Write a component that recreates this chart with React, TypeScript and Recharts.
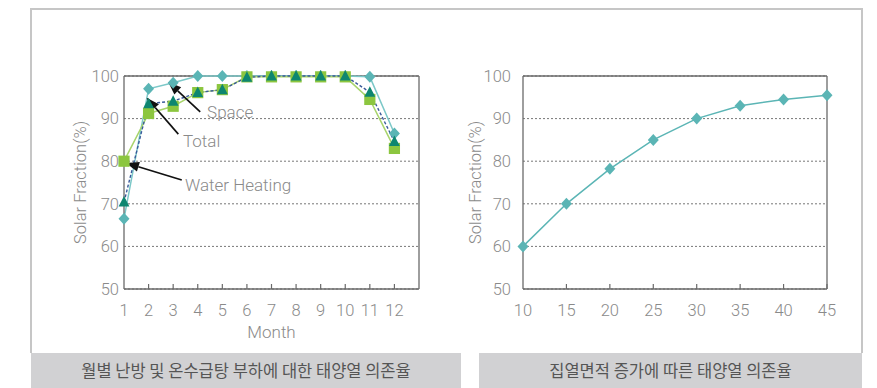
import {
  CartesianGrid,
  Line,
  LineChart,
  ReferenceDot,
  ReferenceLine,
  XAxis,
  YAxis,
} from "recharts";

// monthly solar fraction (%) by load type
const months = [1, 2, 3, 4, 5, 6, 7, 8, 9, 10, 11, 12];
const spaceFraction = [66.5, 97, 98.4, 100, 100, 100, 100, 100, 100, 100, 99.8, 86.5];
const totalFraction = [70.4, 93.5, 94.1, 96.1, 96.8, 99.7, 100, 100, 100, 100, 96.2, 84.6];
const waterFraction = [80, 91.2, 92.9, 96.1, 96.8, 99.8, 99.8, 99.8, 99.8, 99.8, 94.5, 83];

// solar fraction (%) vs collector area
const collectorArea = [10, 15, 20, 25, 30, 35, 40, 45];
const areaFraction = [60, 70, 78.2, 85, 90, 93, 94.5, 95.5];

const fractionTicks = [50, 60, 70, 80, 90, 100];

// arrow annotations on the monthly chart, in data units: [month, %]
const notes = [
  { text: "Space", tail: [4.1, 91.6], head: [2.8, 98.6], at: [4.38, 91.5] },
  { text: "Total", tail: [3.21, 86.35], head: [1.92, 94.9], at: [3.4, 84.7] },
  { text: "Water Heating", tail: [3.35, 75.6], head: [1.08, 79.6], at: [3.48, 74.4] },
];

const captions = ["월별 난방 및 온수급탕 부하에 대한 태양열 의존율", "집열면적 증가에 따른 태양열 의존율"];

const colors = {
  text: "#8a8a8a",
  axis: "#6a6a6a",
  grid: "#777",
  space: "#5bb5b5",
  spaceLine: "#7cc8c8",
  total: "#0e8670",
  totalLine: "#3a5a9a",
  water: "#8cc63f",
  waterLine: "#a8d46c",
};

const font = "Roboto, 'Noto Sans', sans-serif";

const monthRows = months.map((month, i) => ({
  month,
  space: spaceFraction[i],
  total: totalFraction[i],
  water: waterFraction[i],
}));

const areaRows = collectorArea.map((area, i) => ({ area, value: areaFraction[i] }));

const diamond = (fill: string) => (p: any) =>
  p.cx == null ? null : (
    <path
      key={`d-${p.index}`}
      d={`M${p.cx},${p.cy - 6}L${p.cx + 5.5},${p.cy}L${p.cx},${p.cy + 6}L${p.cx - 5.5},${p.cy}Z`}
      fill={fill}
    />
  );

const square = (fill: string) => (p: any) =>
  p.cx == null ? null : (
    <rect key={`s-${p.index}`} x={p.cx - 5.6} y={p.cy - 5.6} width={11.2} height={11.2} fill={fill} />
  );

const triangle = (fill: string) => (p: any) =>
  p.cx == null ? null : (
    <path
      key={`t-${p.index}`}
      d={`M${p.cx},${p.cy - 6}L${p.cx + 5.4},${p.cy + 4.5}L${p.cx - 5.4},${p.cy + 4.5}Z`}
      fill={fill}
    />
  );

const bottomTick = (first: number) => (p: any) => (
  <g>
    {p.payload.value !== first && (
      <line x1={p.x} x2={p.x} y1={p.y} y2={p.y - 5} stroke={colors.axis} strokeWidth={1.2} />
    )}
    <text
      x={p.x}
      y={p.y + 21}
      textAnchor="middle"
      dominantBaseline="central"
      fill={colors.text}
      fontSize={16.5}
      fontFamily={font}
      fontWeight={300}
    >
      {p.payload.value}
    </text>
  </g>
);

const arrowShape = (p: any) => {
  const { x1, y1, x2, y2 } = p;
  const a = Math.atan2(y2 - y1, x2 - x1);
  const len = 13;
  const half = 5;
  const bx = x2 - len * Math.cos(a);
  const by = y2 - len * Math.sin(a);
  return (
    <g>
      <line x1={x1} y1={y1} x2={bx} y2={by} stroke="#111" strokeWidth={1.7} />
      <polygon
        points={`${x2},${y2} ${bx - half * Math.sin(a)},${by + half * Math.cos(a)} ${bx + half * Math.sin(a)},${by - half * Math.cos(a)}`}
        fill="#111"
      />
    </g>
  );
};

const yTick = { fill: colors.text, fontSize: 16.5, fontFamily: font, fontWeight: 300 };

function MonthlyChart() {
  return (
    <LineChart width={420} height={340} data={monthRows} margin={{ top: 67, right: 31, bottom: 0, left: 0 }}>
      <CartesianGrid stroke={colors.grid} strokeDasharray="2 2" vertical={false} />
      <XAxis
        dataKey="month"
        type="number"
        domain={[1, 13]}
        ticks={months}
        interval={0}
        height={60}
        tickSize={0}
        tickMargin={0}
        tick={bottomTick(1)}
        axisLine={{ stroke: colors.axis, strokeWidth: 1.3 }}
        label={{ value: "Month", position: "insideBottom", offset: 11, fill: colors.text, fontSize: 17, fontFamily: font, fontWeight: 300 }}
      />
      <YAxis
        domain={[50, 100]}
        ticks={fractionTicks}
        width={94}
        tickSize={0}
        tickMargin={5}
        tickLine={false}
        tick={yTick}
        axisLine={{ stroke: colors.axis, strokeWidth: 1.3 }}
        label={{
          value: "Solar Fraction(%)",
          angle: -90,
          position: "insideLeft",
          offset: 50,
          fill: colors.text,
          fontSize: 16.5,
          fontFamily: font,
          fontWeight: 300,
          style: { textAnchor: "middle" },
        }}
      />
      <ReferenceLine y={100} stroke={colors.axis} strokeWidth={1.3} />
      <ReferenceLine x={13} stroke={colors.axis} strokeWidth={1.3} />
      <Line
        dataKey="space"
        stroke={colors.spaceLine}
        strokeWidth={1.5}
        dot={diamond(colors.space)}
        activeDot={false}
        isAnimationActive={false}
      />
      <Line
        dataKey="water"
        stroke={colors.waterLine}
        strokeWidth={1.5}
        dot={square(colors.water)}
        activeDot={false}
        isAnimationActive={false}
      />
      <Line
        dataKey="total"
        stroke={colors.totalLine}
        strokeWidth={1.4}
        strokeDasharray="3 2"
        dot={triangle(colors.total)}
        activeDot={false}
        isAnimationActive={false}
      />
      {notes.map((n) => (
        <ReferenceLine
          key={`a-${n.text}`}
          segment={[
            { x: n.tail[0], y: n.tail[1] },
            { x: n.head[0], y: n.head[1] },
          ]}
          shape={arrowShape}
          ifOverflow="visible"
        />
      ))}
      {notes.map((n) => (
        <ReferenceDot
          key={`l-${n.text}`}
          x={n.at[0]}
          y={n.at[1]}
          r={0}
          fill="none"
          stroke="none"
          ifOverflow="visible"
          label={{ value: n.text, position: "right", offset: 0, fill: colors.text, fontSize: 17, fontFamily: font, fontWeight: 300 }}
        />
      ))}
    </LineChart>
  );
}

function AreaChart() {
  return (
    <LineChart width={405} height={340} data={areaRows} margin={{ top: 67, right: 33, bottom: 0, left: 0 }}>
      <CartesianGrid stroke={colors.grid} strokeDasharray="2 2" vertical={false} />
      <XAxis
        dataKey="area"
        type="number"
        domain={[10, 45]}
        ticks={collectorArea}
        interval={0}
        height={60}
        tickSize={0}
        tickMargin={0}
        tick={bottomTick(10)}
        axisLine={{ stroke: colors.axis, strokeWidth: 1.3 }}
      />
      <YAxis
        domain={[50, 100]}
        ticks={fractionTicks}
        width={68}
        tickSize={0}
        tickMargin={12}
        tickLine={false}
        tick={yTick}
        axisLine={{ stroke: colors.axis, strokeWidth: 1.3 }}
        label={{
          value: "Solar Fraction(%)",
          angle: -90,
          position: "insideLeft",
          offset: 20,
          fill: colors.text,
          fontSize: 16.5,
          fontFamily: font,
          fontWeight: 300,
          style: { textAnchor: "middle" },
        }}
      />
      <ReferenceLine y={100} stroke={colors.axis} strokeWidth={1.3} />
      <ReferenceLine x={45} stroke={colors.axis} strokeWidth={1.3} />
      <Line
        dataKey="value"
        stroke={colors.space}
        strokeWidth={1.5}
        dot={diamond(colors.space)}
        activeDot={false}
        isAnimationActive={false}
      />
    </LineChart>
  );
}

const captionStyle: React.CSSProperties = {
  position: "absolute",
  top: 353,
  height: 35,
  background: "#d1d1d3",
  color: "#555",
  fontFamily: "'Noto Sans CJK KR', sans-serif",
  fontSize: 16.5,
  lineHeight: "35px",
  textAlign: "center",
};

export default function App() {
  return (
    <div style={{ position: "absolute", left: 0, top: 0, width: 877, height: 388, background: "#fff", overflow: "hidden" }}>
      <div
        style={{
          position: "absolute",
          left: 30,
          top: 8,
          width: 833,
          height: 345,
          boxSizing: "border-box",
          border: "2px solid #c6c6c6",
          borderBottom: "none",
        }}
      />
      <div style={{ position: "absolute", left: 30, top: 9 }}>
        <MonthlyChart />
      </div>
      <div style={{ position: "absolute", left: 455, top: 9 }}>
        <AreaChart />
      </div>
      <div style={{ ...captionStyle, left: 31, width: 430 }}>{captions[0]}</div>
      <div style={{ ...captionStyle, left: 479, width: 383 }}>{captions[1]}</div>
    </div>
  );
}
